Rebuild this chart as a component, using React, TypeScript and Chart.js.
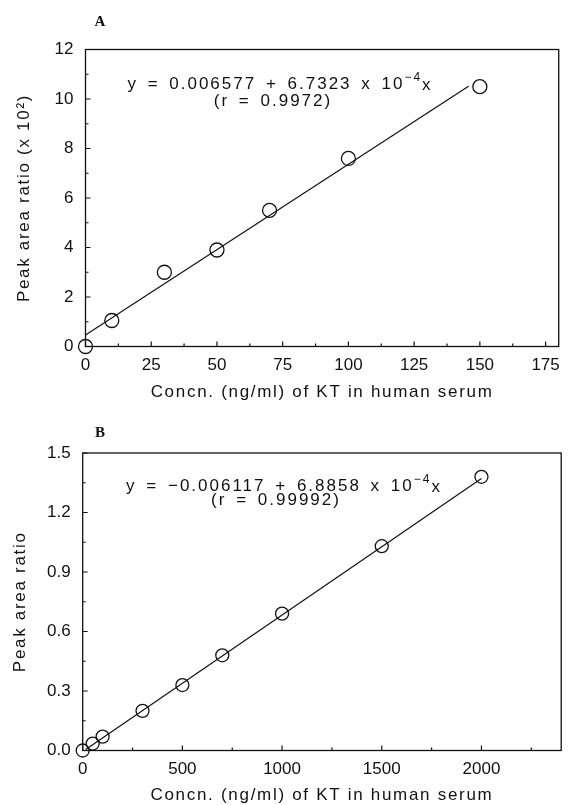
import React, { useEffect, useRef } from "react";
import { Chart, registerables } from "chart.js";

Chart.register(...registerables);

const INK = "#111111";
const SANS = "'Liberation Sans', Arial, Helvetica, sans-serif";
const SERIF = "'Liberation Serif', 'Times New Roman', serif";

// ---------- Panel A ----------
const concA = [0, 10, 30, 50, 70, 100, 150];
const ratioA = [0, 1.05, 3.0, 3.9, 5.5, 7.6, 10.5];
const fitConcA = [0, 145.7];
const fitRatioA = [0.46, 10.52];
const xTicksA = [0, 25, 50, 75, 100, 125, 150, 175];
const yTicksA = [0, 2, 4, 6, 8, 10, 12];
const xMinorA = [12.5, 37.5, 62.5, 87.5, 112.5, 137.5, 162.5];
const yMinorA = [1, 3, 5, 7, 9, 11];

// ---------- Panel B ----------
const concB = [0, 50, 100, 300, 500, 700, 1000, 1500, 2000];
const ratioB = [0, 0.035, 0.07, 0.2, 0.33, 0.48, 0.69, 1.03, 1.38];
const fitConcB = [15, 2000];
const fitRatioB = [0.005, 1.371];
const xTicksB = [0, 500, 1000, 1500, 2000];
const yTicksB = [0, 0.3, 0.6, 0.9, 1.2, 1.5];
const xMinorB = [250, 750, 1250, 1750, 2250];
const yMinorB = [0.15, 0.45, 0.75, 1.05, 1.35];

const xTitle = "Concn. (ng/ml) of KT in human serum";

type Panel = {
  key: string;
  letter: string;
  top: number;
  height: number;
  xs: number[];
  ys: number[];
  fitX: number[];
  fitY: number[];
  xMax: number;
  yMax: number;
  xTicks: number[];
  yTicks: number[];
  xMinor: number[];
  yMinor: number[];
  yDecimals: number;
  yTitle: string;
  pad: { top: number; right: number; left: number; bottom: number };
  yAxisWidth: number;
  xAxisHeight: number;
  xTickPad: number;
  yTitlePad: number;
  xTitlePad: number;
  radius: number;
  eqMain: string;
  eqSup: string;
  eqTail: string;
  rText: string;
  eqCenter: [number, number];
  rCenter: [number, number];
  letterPos: [number, number];
};

const panels: Panel[] = [
  {
    key: "A",
    letter: "A",
    top: 0,
    height: 405,
    xs: concA,
    ys: ratioA,
    fitX: fitConcA,
    fitY: fitRatioA,
    xMax: 180,
    yMax: 12,
    xTicks: xTicksA,
    yTicks: yTicksA,
    xMinor: xMinorA,
    yMinor: yMinorA,
    yDecimals: 0,
    yTitle: "Peak area ratio (x 10\u00b2)",
    pad: { top: 49.5, right: 1, left: 0, bottom: 0 },
    yAxisWidth: 85.5,
    xAxisHeight: 58.5,
    xTickPad: 9,
    yTitlePad: 15.5,
    xTitlePad: 4,
    radius: 7,
    eqMain: "y = 0.006577 + 6.7323 x 10",
    eqSup: "\u22124",
    eqTail: "x",
    rText: "(r = 0.9972)",
    eqCenter: [280, 84],
    rCenter: [273, 101],
    letterPos: [100, 22],
  },
  {
    key: "B",
    letter: "B",
    top: 400,
    height: 405,
    xs: concB,
    ys: ratioB,
    fitX: fitConcB,
    fitY: fitRatioB,
    xMax: 2400,
    yMax: 1.5,
    xTicks: xTicksB,
    yTicks: yTicksB,
    xMinor: xMinorB,
    yMinor: yMinorB,
    yDecimals: 1,
    yTitle: "Peak area ratio",
    pad: { top: 53, right: 2.4, left: 0, bottom: 0 },
    yAxisWidth: 82.7,
    xAxisHeight: 54.5,
    xTickPad: 9,
    yTitlePad: 12,
    xTitlePad: 1.5,
    radius: 6.5,
    eqMain: "y = \u22120.006117 + 6.8858 x 10",
    eqSup: "\u22124",
    eqTail: "x",
    rText: "(r = 0.99992)",
    eqCenter: [284, 86],
    rCenter: [276, 100],
    letterPos: [100, 33],
  },
];

function drawEquation(ctx: any, p: Panel) {
  ctx.fillStyle = INK;
  ctx.letterSpacing = "2px";
  ctx.wordSpacing = "3px";
  ctx.textBaseline = "middle";
  ctx.textAlign = "left";
  const big = `17px ${SANS}`;
  const small = `12px ${SANS}`;
  ctx.font = big;
  const w1 = ctx.measureText(p.eqMain).width;
  const wt = ctx.measureText(p.eqTail).width;
  ctx.font = small;
  const ws = ctx.measureText(p.eqSup).width;
  let x0 = p.eqCenter[0] - (w1 + ws + wt) / 2;
  const cy = p.eqCenter[1];
  ctx.font = big;
  ctx.fillText(p.eqMain, x0, cy);
  x0 += w1;
  ctx.font = small;
  ctx.fillText(p.eqSup, x0, cy - 6);
  x0 += ws;
  ctx.font = big;
  ctx.fillText(p.eqTail, x0, cy + 1);
  ctx.textAlign = "center";
  ctx.fillText(p.rText, p.rCenter[0], p.rCenter[1]);
}

function decorPlugin(p: Panel) {
  return {
    id: "decor" + p.key,
    beforeDraw(chart: any) {
      chart.ctx.letterSpacing = "1.7px";
    },
    beforeDatasetsDraw(chart: any) {
      chart.ctx.letterSpacing = "0px";
    },
    afterDraw(chart: any) {
      const ctx = chart.ctx;
      const a = chart.chartArea;
      const xs = chart.scales.x;
      const ys = chart.scales.y;
      ctx.save();
      ctx.letterSpacing = "0px";
      ctx.strokeStyle = INK;
      ctx.lineWidth = 1.3;
      ctx.strokeRect(a.left, a.top, a.right - a.left, a.bottom - a.top);
      ctx.lineWidth = 1.2;
      ctx.beginPath();
      const xMark = (v: number, len: number) => {
        const px = xs.getPixelForValue(v);
        ctx.moveTo(px, a.bottom);
        ctx.lineTo(px, a.bottom - len);
      };
      const yMark = (v: number, len: number) => {
        const py = ys.getPixelForValue(v);
        ctx.moveTo(a.left, py);
        ctx.lineTo(a.left + len, py);
      };
      p.xTicks.forEach((v) => xMark(v, 5));
      p.xMinor.forEach((v) => xMark(v, 3));
      p.yTicks.forEach((v) => yMark(v, 5));
      p.yMinor.forEach((v) => yMark(v, 3));
      ctx.stroke();

      ctx.fillStyle = INK;
      ctx.font = `bold 15px ${SERIF}`;
      ctx.textAlign = "center";
      ctx.textBaseline = "middle";
      ctx.fillText(p.letter, p.letterPos[0], p.letterPos[1]);

      drawEquation(ctx, p);
      ctx.restore();
    },
  };
}

function buildConfig(p: Panel): any {
  const tickFont = { family: SANS, size: 17 };
  const titleFont = { family: SANS, size: 17, lineHeight: 1 };
  return {
    type: "scatter",
    data: {
      datasets: [
        {
          type: "line",
          data: p.fitX.map((x, i) => ({ x, y: p.fitY[i] })),
          borderColor: INK,
          borderWidth: 1.2,
          pointRadius: 0,
          fill: false,
          tension: 0,
          order: 2,
        },
        {
          type: "scatter",
          data: p.xs.map((x, i) => ({ x, y: p.ys[i] })),
          pointStyle: "circle",
          pointRadius: p.radius,
          pointHoverRadius: p.radius,
          backgroundColor: "rgba(0,0,0,0)",
          borderColor: INK,
          borderWidth: 1.3,
          clip: false,
          order: 1,
        },
      ],
    },
    options: {
      responsive: false,
      animation: false,
      events: [],
      layout: { padding: p.pad },
      plugins: {
        legend: { display: false },
        tooltip: { enabled: false },
        title: { display: false },
      },
      scales: {
        x: {
          type: "linear",
          position: "bottom",
          min: 0,
          max: p.xMax,
          grid: { display: false, drawTicks: false },
          border: { display: false },
          afterBuildTicks: (s: any) => {
            s.ticks = p.xTicks.map((v) => ({ value: v }));
          },
          afterFit: (s: any) => {
            s.height = p.xAxisHeight;
          },
          ticks: {
            z: 1,
            padding: p.xTickPad,
            color: INK,
            font: tickFont,
            maxRotation: 0,
            autoSkip: false,
            callback: (v: any) => String(v),
          },
          title: {
            display: true,
            text: xTitle,
            color: INK,
            font: titleFont,
            padding: { top: 0, bottom: p.xTitlePad },
          },
        },
        y: {
          type: "linear",
          position: "left",
          min: 0,
          max: p.yMax,
          grid: { display: false, drawTicks: false },
          border: { display: false },
          afterBuildTicks: (s: any) => {
            s.ticks = p.yTicks.map((v) => ({ value: v }));
          },
          afterFit: (s: any) => {
            s.width = p.yAxisWidth;
          },
          ticks: {
            z: 1,
            padding: 12,
            color: INK,
            font: tickFont,
            autoSkip: false,
            callback: (v: any) => Number(v).toFixed(p.yDecimals),
          },
          title: {
            display: true,
            text: p.yTitle,
            color: INK,
            font: titleFont,
            padding: { top: p.yTitlePad, bottom: 0 },
          },
        },
      },
    },
    plugins: [decorPlugin(p)],
  };
}

function PanelChart({ p }: { p: Panel }) {
  const ref = useRef<HTMLCanvasElement | null>(null);
  useEffect(() => {
    if (!ref.current) return;
    const chart = new Chart(ref.current, buildConfig(p));
    return () => chart.destroy();
  }, [p]);
  return (
    <canvas
      ref={ref}
      width={569}
      height={p.height}
      style={{ position: "absolute", left: 0, top: p.top, width: 569, height: p.height }}
    />
  );
}

export default function App() {
  return (
    <div
      style={{
        position: "absolute",
        left: 0,
        top: 0,
        width: 569,
        height: 805,
        background: "#ffffff",
        overflow: "hidden",
      }}
    >
      {panels.map((p) => (
        <PanelChart key={p.key} p={p} />
      ))}
    </div>
  );
}
